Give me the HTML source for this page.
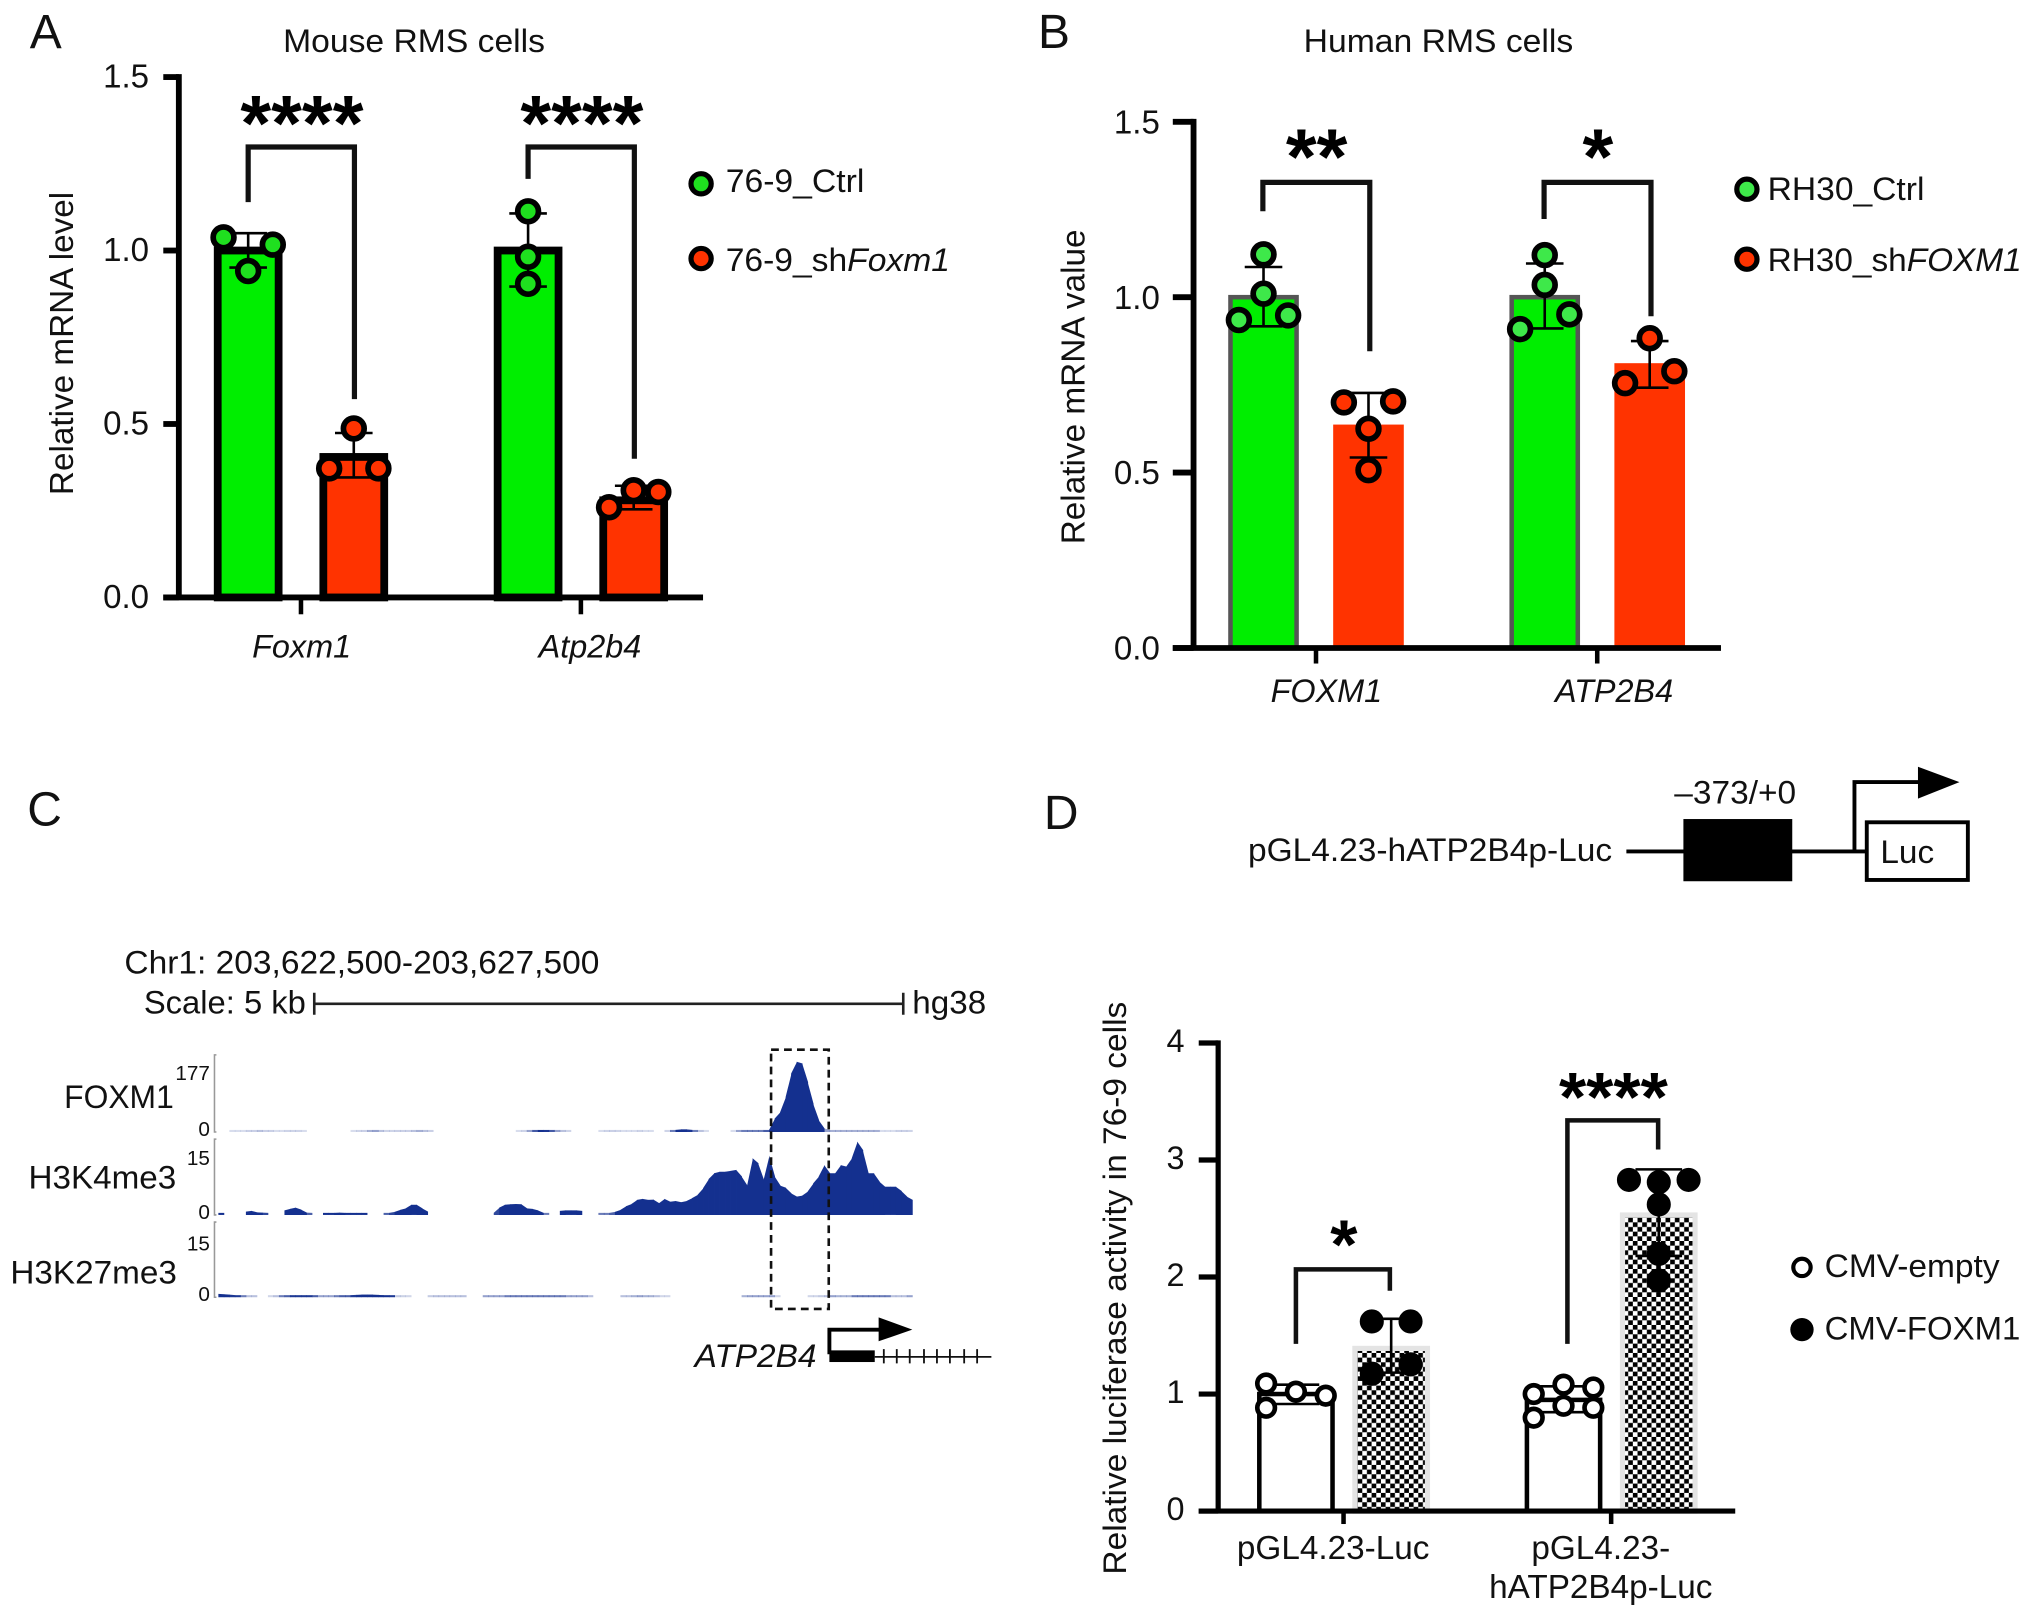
<!DOCTYPE html>
<html lang="en">
<head>
<meta charset="utf-8">
<title>RMS cell expression figure</title>
<style>
html,body{margin:0;padding:0;background:#fff;width:2032px;height:1618px;overflow:hidden}
svg{display:block}
text{font-family:"Liberation Sans",sans-serif;fill:#111}
.star{font-weight:bold;fill:#000;text-anchor:middle}
.it{font-style:italic}
</style>
</head>
<body>
<svg id="fig" xmlns="http://www.w3.org/2000/svg" width="2032" height="1618" viewBox="0 0 1568 1248.5">
<defs>
<pattern id="checker" width="7.2" height="7.2" patternUnits="userSpaceOnUse">
<rect width="7.2" height="7.2" fill="#fff"/>
<rect width="3.6" height="3.6" fill="#000"/>
<rect x="3.6" y="3.6" width="3.6" height="3.6" fill="#000"/>
</pattern>
</defs>
<rect width="1568" height="1248.5" fill="#fff"/>

<g id="panel-a">
<text x="23" y="37" font-size="37">A</text>
<text x="218.5" y="40" font-size="25" textLength="202" lengthAdjust="spacingAndGlyphs">Mouse RMS cells</text>
<text transform="translate(56.3,382) rotate(-90)" font-size="25.5" textLength="234" lengthAdjust="spacingAndGlyphs">Relative mRNA level</text>
<path d="M191.5 156V113.4H273.5V308" fill="none" stroke="#111" stroke-width="4"/>
<path d="M407.5 138V113.4H489.5V354" fill="none" stroke="#111" stroke-width="4"/>
<text class="star" x="233" y="116" font-size="61">****</text>
<text class="star" x="449" y="116" font-size="61">****</text>
<circle cx="541" cy="141.8" r="7.8" fill="#1fe01f" stroke="#000" stroke-width="4"/>
<text x="560" y="148" font-size="25" textLength="107" lengthAdjust="spacingAndGlyphs">76-9_Ctrl</text>
<circle cx="541" cy="199.5" r="7.8" fill="#ff3300" stroke="#000" stroke-width="4"/>
<text x="560" y="209" font-size="25" textLength="173" lengthAdjust="spacingAndGlyphs">76-9_sh<tspan class="it">Foxm1</tspan></text>
</g>

<g id="panel-b">
<text x="801" y="37" font-size="37">B</text>
<text x="1006" y="40" font-size="25" textLength="208" lengthAdjust="spacingAndGlyphs">Human RMS cells</text>
<text transform="translate(837,420) rotate(-90)" font-size="25.5" textLength="243" lengthAdjust="spacingAndGlyphs">Relative mRNA value</text>
<path d="M974.5 163V140.7H1057V271" fill="none" stroke="#111" stroke-width="4"/>
<path d="M1191.5 169V140.7H1274V244" fill="none" stroke="#111" stroke-width="4"/>
<text class="star" x="1016" y="142" font-size="61">**</text>
<text class="star" x="1233" y="142" font-size="61">*</text>
<circle cx="1348" cy="146" r="7.8" fill="#3ee84a" stroke="#000" stroke-width="4"/>
<text x="1364" y="154.5" font-size="25" textLength="121" lengthAdjust="spacingAndGlyphs">RH30_Ctrl</text>
<circle cx="1348" cy="200" r="7.8" fill="#ff3300" stroke="#000" stroke-width="4"/>
<text x="1364" y="209" font-size="25" textLength="196" lengthAdjust="spacingAndGlyphs">RH30_sh<tspan class="it">FOXM1</tspan></text>
</g>

<g id="panel-c">
<text x="21" y="637" font-size="37">C</text>
<text x="96" y="751" font-size="25" textLength="366.5" lengthAdjust="spacingAndGlyphs">Chr1: 203,622,500-203,627,500</text>
<text x="111" y="782" font-size="25" textLength="125" lengthAdjust="spacingAndGlyphs">Scale: 5 kb</text>
<path d="M242.5 766V783M242.5 774.6H697M697 766V783" fill="none" stroke="#222" stroke-width="2"/>
<text x="704" y="782" font-size="25" textLength="57" lengthAdjust="spacingAndGlyphs">hg38</text>
<text x="49.5" y="855" font-size="25" textLength="84.6" lengthAdjust="spacingAndGlyphs">FOXM1</text>
<text x="22" y="917" font-size="25" textLength="114" lengthAdjust="spacingAndGlyphs">H3K4me3</text>
<text x="8" y="990.5" font-size="25" textLength="128.5" lengthAdjust="spacingAndGlyphs">H3K27me3</text>
<g id="tracks"></g>
<rect x="595" y="810" width="44.5" height="200" fill="none" stroke="#111" stroke-width="2" stroke-dasharray="6 4"/>
<text class="it" x="536" y="1055" font-size="25" textLength="94" lengthAdjust="spacingAndGlyphs">ATP2B4</text>
<path d="M640 1045V1026H680" fill="none" stroke="#000" stroke-width="3"/>
<path d="M678 1016.5L704 1026L678 1035Z" fill="#000"/>
<rect x="640" y="1042" width="35" height="9" fill="#000"/>
<path d="M675 1047H765M682 1041V1052M692 1041V1052M702 1041V1052M713 1041V1052M723 1041V1052M733 1041V1052M744 1041V1052M754 1041V1052" fill="none" stroke="#111" stroke-width="1.4"/>
</g>

<g id="panel-d">
<text x="805.5" y="639.5" font-size="37">D</text>
<text x="963" y="664.5" font-size="25" textLength="281" lengthAdjust="spacingAndGlyphs">pGL4.23-hATP2B4p-Luc</text>
<path d="M1255 657H1443" fill="none" stroke="#000" stroke-width="3"/>
<rect x="1299" y="632" width="84" height="48" fill="#000"/>
<text x="1292" y="620" font-size="25" textLength="94" lengthAdjust="spacingAndGlyphs">–373/+0</text>
<path d="M1431 657V603.5H1482" fill="none" stroke="#000" stroke-width="3"/>
<path d="M1480 591.6L1512 603.5L1480 616.2Z" fill="#000"/>
<rect x="1440.5" y="634.5" width="78" height="44.5" fill="#fff" stroke="#000" stroke-width="3"/>
<text x="1451" y="666" font-size="25" textLength="41.5" lengthAdjust="spacingAndGlyphs">Luc</text>
<text transform="translate(869,1215) rotate(-90)" font-size="25" textLength="442" lengthAdjust="spacingAndGlyphs">Relative luciferase activity in 76-9 cells</text>
<path d="M1000 1037V979.5H1072.5V996" fill="none" stroke="#111" stroke-width="3.5"/>
<path d="M1209.5 1037V864.5H1279.5V887" fill="none" stroke="#111" stroke-width="3.5"/>
<text class="star" x="1037" y="979" font-size="54">*</text>
<text class="star" x="1245" y="865" font-size="54">****</text>
<circle cx="1390.5" cy="978" r="6.7" fill="#fff" stroke="#000" stroke-width="3.2"/>
<text x="1408" y="985.5" font-size="25" textLength="135" lengthAdjust="spacingAndGlyphs">CMV-empty</text>
<circle cx="1390.5" cy="1026" r="9" fill="#000"/>
<text x="1408" y="1033.5" font-size="25" textLength="151" lengthAdjust="spacingAndGlyphs">CMV-FOXM1</text>
</g>
</svg>

<script>
/* ---------- Panel A data ---------- */
const aCategories = ['Foxm1', 'Atp2b4'];
const aTicks = ['0.0', '0.5', '1.0', '1.5'];
const aCtrlMeans = [1.0, 1.0];
const aShMeans = [0.405, 0.28];
const aCtrlLow = [0.951, 0.896];
const aCtrlHigh = [1.05, 1.107];
const aShLow = [0.346, 0.254];
const aShHigh = [0.474, 0.322];
const aCtrlPoints = [[1.038, 0.941, 1.017], [1.113, 0.982, 0.904]];
const aShPoints = [[0.372, 0.487, 0.372], [0.26, 0.309, 0.304]];

/* ---------- Panel B data ---------- */
const bCategories = ['FOXM1', 'ATP2B4'];
const bTicks = ['0.0', '0.5', '1.0', '1.5'];
const bCtrlMeans = [1.0, 1.0];
const bShMeans = [0.635, 0.81];
const bCtrlLow = [0.917, 0.911];
const bCtrlHigh = [1.086, 1.096];
const bShLow = [0.543, 0.742];
const bShHigh = [0.727, 0.875];
const bCtrlPoints = [[0.935, 1.122, 1.01, 0.948], [0.909, 1.12, 1.035, 0.951]];
const bShPoints = [[0.70, 0.625, 0.507, 0.703], [0.755, 0.883, 0.789]];

/* ---------- Panel D data ---------- */
const dCategories = [['pGL4.23-Luc'], ['pGL4.23-', 'hATP2B4p-Luc']];
const dTicks = ['0', '1', '2', '3', '4'];
const dEmptyMeans = [1.0, 0.95];
const dFoxm1Means = [1.39, 2.53];
const dEmptyLow = [0.915, 0.845];
const dEmptyHigh = [1.08, 1.066];
const dFoxm1Low = [1.183, 2.18];
const dFoxm1High = [1.643, 2.92];
const dEmptyPoints = [[1.09, 0.883, 1.02, 0.986], [1.0, 0.798, 1.08, 0.90, 1.056, 0.883]];
const dFoxm1Points = [[1.62, 1.174, 1.62, 1.254], [2.83, 2.81, 2.62, 2.197, 1.97, 2.83]];

/* ---------- Panel C data: signal per genomic bin ---------- */
const foxm1Signal = [0,0,.2,.2,.2,.5,.5,.8,.8,.5,.5,.2,.4,.4,.4,.4,.2,0,0,0,0,0,0,0,.2,.4,.5,1.2,1.5,1.5,.8,.4,.5,.5,.5,.8,1.2,1.2,.8,.5,0,0,0,0,0,0,0,0,0,0,0,0,0,0,.2,.4,1.5,3.1,4.6,4.6,3.9,3.1,1.5,.8,.4,0,0,0,0,.2,.4,.5,.5,.4,.2,.2,.4,.4,.2,.2,0,.4,2.3,4.6,6.2,6.2,3.9,2.3,.8,.2,0,0,0,.2,1.5,2.3,2.3,2.3,2.3,3.1,4.6,31,46,81,135,162,158,115,65,27,8,1.5,1.2,1.2,1.2,1.2,1.2,1.2,1.2,1.2,1.2,.2,.2,.5,.5,.5,.4];
const h3k4me3Signal = [.4,.4,0,0,0,.65,.8,.5,.45,.3,0,0,.9,1.2,1.45,1.05,.45,.25,0,.4,.4,.4,.45,.4,.4,.4,.4,.4,0,0,.25,.3,.6,1,1.3,2,2,1.3,.65,0,0,0,0,0,0,0,0,0,0,0,.3,1.45,2,2.1,2.15,2.1,1.3,1.2,.9,.4,.2,0,.8,.9,.9,.9,.8,0,0,.2,.2,.25,.6,1,1.7,2.15,2.95,3.15,2.95,3,2.3,3.15,2.6,2.75,2.5,2.75,3.3,3.95,5.25,7.05,8.2,8.5,8.5,8.65,8.85,7.55,5.75,11.15,10.15,6.9,11.65,7.55,5.75,5.35,4.25,3.6,3.8,4.6,6.2,7.55,9.8,8.2,8.2,9.8,9.5,11.15,14.4,12.75,8.2,8.2,6.55,5.55,5.55,5.55,4.7,3.6,2.95];
const h3k27me3Signal = [.66,.6,.53,.33,.33,.2,.07,.07,0,.03,.07,.2,.26,.33,.33,.33,.33,.33,.26,.13,.13,.2,.26,.26,.33,.46,.53,.53,.53,.46,.4,.4,.33,.05,.04,.03,0,0,.05,.07,.07,.07,.07,.07,.07,.07,0,0,.13,.13,.13,.13,.2,.2,.26,.2,.2,.2,.2,.2,.2,.2,.2,.2,.13,.13,.13,.13,.07,0,0,0,0,.07,.07,.1,.13,.13,.1,.1,.07,.03,.03,0,0,0,0,0,0,0,0,0,0,0,0,.1,.13,.13,.13,.13,.13,.13,.03,0,0,0,0,.03,.03,.05,.07,.13,.13,.1,.1,.2,.2,.26,.2,.2,.2,.2,.2,.07,.07,.13,.13];
const trackLabels = ['FOXM1', 'H3K4me3', 'H3K27me3'];
const trackMaxLabels = ['177', '15', '15'];

/* ---------- helpers ---------- */
const NS = 'http://www.w3.org/2000/svg';
function make(parent, tag, attrs, text) {
  const node = document.createElementNS(NS, tag);
  for (const key in attrs) node.setAttribute(key, attrs[key]);
  if (text !== undefined) node.textContent = text;
  parent.appendChild(node);
  return node;
}

function drawBarChart(cfg) {
  const host = document.getElementById(cfg.host);
  const yScale = v => cfg.y0 - v * cfg.unit;
  const xScale = (c, s) => cfg.x0 + c * cfg.catGap + s * cfg.seriesGap;

  cfg.ticks.forEach(label => {
    const value = parseFloat(label);
    const tick = make(host, 'line', {x1: cfg.axisX - cfg.tickLen, x2: cfg.axisX, y1: yScale(value), y2: yScale(value), stroke: '#000', 'stroke-width': cfg.axisWidth});
    
    
    const tickText = make(host, 'text', {x: cfg.labelX, y: yScale(value) + cfg.labelDy, 'font-size': cfg.tickFont, 'text-anchor': 'end'}, label);
    
    
  });

  cfg.series.forEach((series, s) => {
    cfg.categories.forEach((cat, c) => {
      const cx = xScale(c, s);
      const inner = cfg.barWidth - series.barStroke;
      const bar = make(host, 'rect', {x: cx - inner / 2, y: yScale(series.means[c]), width: inner, height: cfg.y0 - yScale(series.means[c]), fill: series.fill, stroke: series.barColor, 'stroke-width': series.barStroke});
      
      
    });
  });

  cfg.series.forEach((series, s) => {
    cfg.categories.forEach((cat, c) => {
      const cx = xScale(c, s);
      const low = yScale(series.low[c]);
      const high = yScale(series.high[c]);
      const whisker = make(host, 'path', {d: 'M' + (cx - cfg.capHalf) + ' ' + high + 'H' + (cx + cfg.capHalf) + 'M' + cx + ' ' + high + 'V' + low + 'M' + (cx - cfg.capHalf) + ' ' + low + 'H' + (cx + cfg.capHalf), fill: 'none', stroke: '#000', 'stroke-width': 2});
      
      
      series.points[c].forEach((value, i) => {
        const dot = make(host, 'circle', {cx: cx + series.slots[c][i] * cfg.slotStep, cy: yScale(value), r: series.pointR, fill: series.pointFill, stroke: '#000', 'stroke-width': series.pointStroke});
        
        
      });
    });
  });

  const axes = make(host, 'path', {d: 'M' + cfg.axisX + ' ' + (yScale(parseFloat(cfg.ticks[cfg.ticks.length - 1])) - cfg.axisWidth / 2) + 'V' + cfg.y0 + 'M' + (cfg.axisX - cfg.tickLen) + ' ' + cfg.y0 + 'H' + cfg.axisEnd, fill: 'none', stroke: '#000', 'stroke-width': cfg.axisWidth});
  
  

  cfg.categories.forEach((cat, c) => {
    const tx = (xScale(c, 0) + xScale(c, 1)) / 2;
    const xTick = make(host, 'line', {x1: tx, x2: tx, y1: cfg.y0, y2: cfg.y0 + cfg.xTickLen, stroke: '#000', 'stroke-width': 3.5});
    
    
    const lines = Array.isArray(cat) ? cat : [cat];
    lines.forEach((line, i) => {
      const label = make(host, 'text', {x: tx + cfg.catLabelDx[c], y: cfg.catLabelY + i * 30, 'font-size': cfg.catFont, 'text-anchor': 'middle', 'font-style': cfg.catItalic ? 'italic' : 'normal'}, line);
      
      
    });
  });
}

function drawTrack(host, signal, maxValue, baseline, pxHeight, axisTop, maxLabel, maxLabelY) {
  const x0 = 168.5;
  const step = 4.25;
  const h = v => Math.max(v / maxValue * pxHeight, 1.6);
  const alpha = v => Math.min(1, 0.12 + (v / maxValue * pxHeight) * 0.65);
  for (let i = 0; i < signal.length - 1; i++) {
    const a = signal[i];
    const b = signal[i + 1];
    if (!(a > 0) || !(b > 0)) continue;
    const xa = x0 + i * step;
    const xb = x0 + (i + 1) * step + 0.3;
    const bin = make(host, 'polygon', {points: xa + ',' + baseline + ' ' + xa + ',' + (baseline - h(a)) + ' ' + xb + ',' + (baseline - h(b)) + ' ' + xb + ',' + baseline, fill: '#14308f', 'fill-opacity': alpha(Math.min(a, b))});
    
    
  }
  const axis = make(host, 'path', {d: 'M167 ' + axisTop + 'H165.5V' + baseline + 'H167', fill: 'none', stroke: '#999', 'stroke-width': 1.2});
  
  
  const top = make(host, 'text', {x: 162, y: maxLabelY, 'font-size': 16, 'text-anchor': 'end'}, maxLabel);
  
  
  const zero = make(host, 'text', {x: 162, y: baseline + 3, 'font-size': 16, 'text-anchor': 'end'}, '0');
  
  
}

/* ---------- draw ---------- */
drawBarChart({
  host: 'panel-a', categories: aCategories, ticks: aTicks, catItalic: true, catFont: 25,
  y0: 461, unit: 267.7, x0: 191.5, catGap: 216, seriesGap: 81.5, barWidth: 53,
  axisX: 138, axisEnd: 542.5, axisWidth: 4.5, tickLen: 12, xTickLen: 13, labelX: 115, labelDy: 8, tickFont: 25.5,
  capHalf: 14.5, slotStep: 19, catLabelDx: [0.5, 7], catLabelY: 507.5,
  series: [
    {means: aCtrlMeans, low: aCtrlLow, high: aCtrlHigh, points: aCtrlPoints, fill: '#00ee00', barColor: '#000', barStroke: 6, pointFill: '#1fe01f', pointR: 8, pointStroke: 4.4, slots: [[-1, 0, 1], [0, 0, 0]]},
    {means: aShMeans, low: aShLow, high: aShHigh, points: aShPoints, fill: '#ff3300', barColor: '#000', barStroke: 6, pointFill: '#ff3300', pointR: 8, pointStroke: 4.4, slots: [[-1, 0, 1], [-1, 0, 1]]}
  ]
});

drawBarChart({
  host: 'panel-b', categories: bCategories, ticks: bTicks, catItalic: true, catFont: 25,
  y0: 500, unit: 270.7, x0: 975, catGap: 217, seriesGap: 81, barWidth: 54.5,
  axisX: 921, axisEnd: 1328, axisWidth: 4.5, tickLen: 16, xTickLen: 12, labelX: 895, labelDy: 9, tickFont: 25.5,
  capHalf: 14.5, slotStep: 19, catLabelDx: [8, 13], catLabelY: 541.5,
  series: [
    {means: bCtrlMeans, low: bCtrlLow, high: bCtrlHigh, points: bCtrlPoints, fill: '#00ee00', barColor: '#555', barStroke: 3.5, pointFill: '#3ee84a', pointR: 8, pointStroke: 4.4, slots: [[-1, 0, 0, 1], [-1, 0, 0, 1]]},
    {means: bShMeans, low: bShLow, high: bShHigh, points: bShPoints, fill: '#ff3300', barColor: '#ff3300', barStroke: 1, pointFill: '#ff3300', pointR: 8, pointStroke: 4.4, slots: [[-1, 0, 0, 1], [-1, 0, 1]]}
  ]
});

drawBarChart({
  host: 'panel-d', categories: dCategories, ticks: dTicks, catItalic: false, catFont: 25.7,
  y0: 1166, unit: 90.3, x0: 1000, catGap: 206.5, seriesGap: 73.5, barWidth: 60,
  axisX: 940, axisEnd: 1339, axisWidth: 4, tickLen: 15, xTickLen: 10, labelX: 914, labelDy: 7, tickFont: 25,
  capHalf: 18, slotStep: 23, catLabelDx: [-8, -8], catLabelY: 1203,
  series: [
    {means: dEmptyMeans, low: dEmptyLow, high: dEmptyHigh, points: dEmptyPoints, fill: '#fff', barColor: '#000', barStroke: 3.5, pointFill: '#fff', pointR: 6.8, pointStroke: 3.6, slots: [[-1, -1, 0, 1], [-1, -1, 0, 0, 1, 1]]},
    {means: dFoxm1Means, low: dFoxm1Low, high: dFoxm1High, points: dFoxm1Points, fill: 'url(#checker)', barColor: '#e4e4e4', barStroke: 4, pointFill: '#000', pointR: 9, pointStroke: 0.6, slots: [[-0.65, -0.65, 0.65, 0.65], [-1, 0, 0, 0, 0, 1]]}
  ]
});

const tracksHost = document.getElementById('tracks');
drawTrack(tracksHost, foxm1Signal, 177, 873.5, 59.2, 814, trackMaxLabels[0], 833.5);
drawTrack(tracksHost, h3k4me3Signal, 15, 937.5, 58.9, 879, trackMaxLabels[1], 898.8);
drawTrack(tracksHost, h3k27me3Signal, 15, 1001, 58.4, 943, trackMaxLabels[2], 965);
</script>
</body>
</html>
